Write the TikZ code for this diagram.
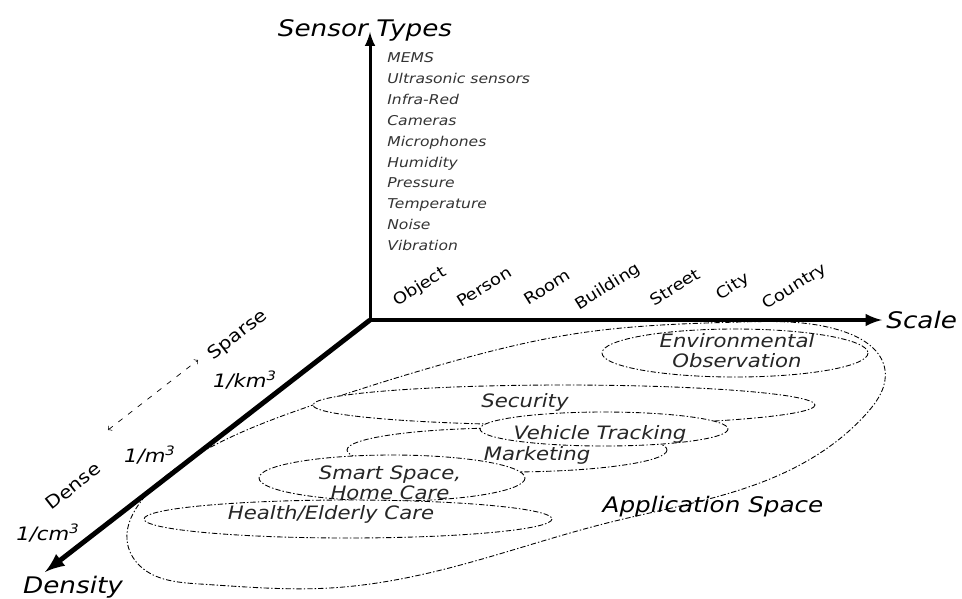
\documentclass[tikz,border=0pt]{standalone}
\usepackage{fontspec}
\setmainfont{DejaVu Sans}[FakeStretch=1.15]
\usepackage{tikz}
\usetikzlibrary{hobby}

\tikzset{
	mainaxis/.style={line width=#1, -latex},
	axistitle/.style={font=\fontsize{13}{15}\selectfont\itshape, inner sep=0pt},
	sensortext/.style={font=\fontsize{7.7}{9}\selectfont\itshape, text=black!80, anchor=base west, inner sep=0pt},
	scaletext/.style={font=\fontsize{9}{11}\selectfont, rotate=32, inner sep=0pt},
	densitytext/.style={font=\fontsize{10.5}{12}\selectfont\itshape, inner sep=0pt},
	rangetext/.style={font=\fontsize{10}{12}\selectfont, rotate=38, inner sep=0pt},
	appcurve/.style={line width=0.5pt, dash pattern=on 3pt off 1.2pt on 0.8pt off 1.2pt},
	appfield/.style={appcurve, fill=white},
	apptext/.style={font=\fontsize{10.5}{11.3}\selectfont\itshape, text=black!85, align=center, inner sep=0pt},
}

\begin{document}
\begin{tikzpicture}[x=0.02cm, y=-0.02cm]
		\useasboundingbox (0,0) rectangle (962,598);
		\def\ox{370};
		\def\oy{320};
		\def\step{20.8};
		
		\coordinate (origin) at (\ox,\oy);
		\coordinate (sensor tip) at (\ox,32);
		\coordinate (scale tip) at (882,\oy);
		\coordinate (density tip) at (45,572);
		
		% application space
		\draw[appcurve, use Hobby shortcut, closed=true] (127,540) .. (142,500) .. (200,453) .. (313,405) .. (447,363) .. (580,333) .. (740,322) .. (845,332) .. (885,370) .. (867,413) .. (790,470) .. (607,523) .. (453,567) .. (330,588) .. (200,584) .. (140,566);
		
		\draw[appfield] (735,353) ellipse [x radius=133, y radius=24];
		\draw[appfield] (564,405) ellipse [x radius=251, y radius=20];
		\draw[appfield] (507,450) ellipse [x radius=160, y radius=22];
		\draw[appfield] (604,429) ellipse [x radius=124, y radius=17];
		\draw[appfield] (392,478) ellipse [x radius=133, y radius=23];
		\draw[appfield] (348,519) ellipse [x radius=204, y radius=19];
		
		\node[apptext] (environment) at (737,351) {Environmental\\Observation};
		\node[apptext] (security) at (525,402) {Security};
		\node[apptext] (vehicle) at (600,434) {Vehicle Tracking};
		\node[apptext] (marketing) at (537,455) {Marketing};
		\node[apptext] (smart space) at (390,483) {Smart Space,\\Home Care};
		\node[apptext] (health) at (331,514) {Health/Elderly Care};
		\node[apptext, text=black, font=\fontsize{12.2}{14}\selectfont\itshape] (application) at (713,507) {Application Space};
		
		% axes
		\draw[mainaxis=1.7pt] (origin) -- (sensor tip);
		\draw[mainaxis=2.2pt] (origin) -- (scale tip);
		\draw[mainaxis=2.8pt] (origin) -- (density tip);
		
		\node[axistitle] (sensor types) at (365,30) {Sensor Types};
		\node[axistitle, anchor=west] (scale) at (886,\oy) {Scale};
		\node[axistitle] (density) at (73,587) {Density};
		
		\foreach \s [count=\i from 0] in {MEMS, Ultrasonic sensors, Infra-Red, Cameras, Microphones, Humidity, Pressure, Temperature, Noise, Vibration}
			\node[sensortext] (sensor\i) at (387,{63 + \step*\i}) {\s};
		
		\foreach \x/\s in {420/Object, 484/Person, 547/Room, 608/Building, 675/Street, 733/City, 795/Country}
			\node[scaletext] (\s) at (\x,287) {\s};
		
		\node[densitytext] (km) at (245,380) {1/km\textsuperscript{3}};
		\node[densitytext] (m) at (150,455) {1/m\textsuperscript{3}};
		\node[densitytext] (cm) at (48,533) {1/cm\textsuperscript{3}};
		
		\coordinate (dense end) at (108,430);
		\coordinate (sparse end) at (198,360);
		\node[rangetext] (dense) at (73,486) {Dense};
		\node[rangetext] (sparse) at (238,335) {Sparse};
		\draw[<->, thin, dash pattern=on 3pt off 4pt] (dense end) -- (sparse end);
	\end{tikzpicture}
\end{document}
